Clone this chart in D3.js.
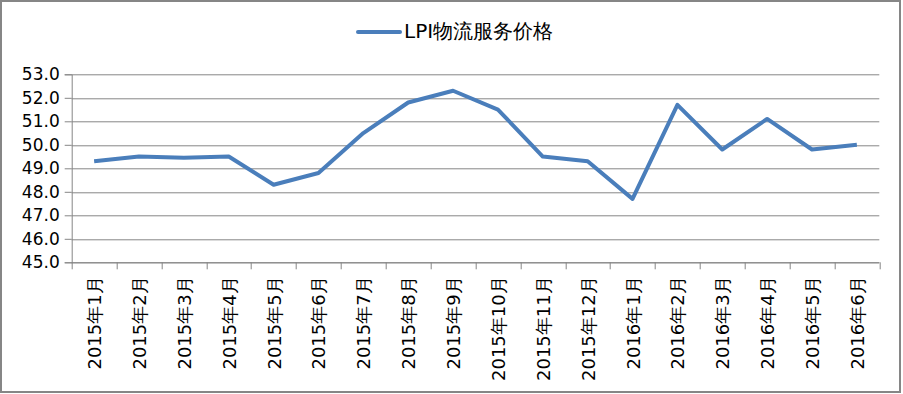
<!DOCTYPE html>
<html>
<head>
<meta charset="utf-8">
<script src="https://cdn.jsdelivr.net/npm/d3@7"></script>
<style>
  body { margin: 0; background: #fff; }
  text { font-family: "DejaVu Sans", sans-serif; fill: #000; }
</style>
</head>
<body>
<div id="chart"></div>
<script>
var svgWidth = 903;
var svgHeight = 394;

var margin = { top: 74.3, right: 23.7, bottom: 131.7, left: 71.7 };
var width = svgWidth - margin.left - margin.right;
var height = svgHeight - margin.top - margin.bottom;

// data
var months = ["2015年1月", "2015年2月", "2015年3月", "2015年4月", "2015年5月", "2015年6月",
  "2015年7月", "2015年8月", "2015年9月", "2015年10月", "2015年11月", "2015年12月",
  "2016年1月", "2016年2月", "2016年3月", "2016年4月", "2016年5月", "2016年6月"];
var lpiPrice = [49.3, 49.5, 49.45, 49.5, 48.3, 48.8, 50.5, 51.8, 52.3, 51.5, 49.5, 49.3,
  47.7, 51.7, 49.8, 51.1, 49.8, 50.0];
var yTicks = [45, 46, 47, 48, 49, 50, 51, 52, 53];
var seriesName = "LPI物流服务价格";

var svg = d3.select("#chart")
  .append("svg")
  .attr("width", svgWidth)
  .attr("height", svgHeight);

// outer frame
svg.append("rect")
  .attr("x", 1).attr("y", 1)
  .attr("width", 899).attr("height", 391)
  .attr("fill", "#fff")
  .attr("stroke", "#868686")
  .attr("stroke-width", 2);

var chartGroup = svg.append("g")
  .attr("transform", `translate(${margin.left}, ${margin.top})`);

var x = d3.scaleBand().domain(months).range([0, width]).padding(0);
var y = d3.scaleLinear().domain([45, 53]).range([height, 0]);

// gridlines + y axis
var yAxis = chartGroup.append("g")
  .call(d3.axisLeft(y).tickValues(yTicks).tickFormat(d3.format(".1f")).tickSize(7).tickPadding(5));
yAxis.select(".domain").attr("stroke", "#868686");
yAxis.selectAll(".tick line").attr("stroke", "#868686");
yAxis.selectAll(".tick text").attr("font-size", "17px").attr("font-family", "DejaVu Sans");

chartGroup.append("g")
  .selectAll("line")
  .data(yTicks)
  .enter()
  .append("line")
  .attr("x1", 0).attr("x2", width)
  .attr("y1", d => Math.round(y(d)) + 0.5)
  .attr("y2", d => Math.round(y(d)) + 0.5)
  .attr("stroke", "#868686")
  .attr("stroke-width", 1);

// x axis: ticks on category boundaries
var xAxisG = chartGroup.append("g")
  .attr("transform", `translate(0,${height})`);
xAxisG.append("line")
  .attr("x1", 0).attr("x2", width)
  .attr("y1", 0.5).attr("y2", 0.5)
  .attr("stroke", "#868686");
xAxisG.selectAll(".bound")
  .data(months.concat(["end"]))
  .enter()
  .append("line")
  .attr("class", "bound")
  .attr("x1", (d, i) => Math.round(i * x.bandwidth()) + 0.5)
  .attr("x2", (d, i) => Math.round(i * x.bandwidth()) + 0.5)
  .attr("y1", 0).attr("y2", 7)
  .attr("stroke", "#868686");
xAxisG.selectAll(".lab")
  .data(months)
  .enter()
  .append("text")
  .attr("class", "lab")
  .attr("transform", d => `translate(${x(d) + x.bandwidth() / 2 + 7}, 14) rotate(-90)`)
  .attr("text-anchor", "end")
  .attr("font-size", "18px")
  .text(d => d);

// the line
var line = d3.line()
  .x((d, i) => x(months[i]) + x.bandwidth() / 2)
  .y(d => y(d));

chartGroup.append("path")
  .datum(lpiPrice)
  .attr("d", line)
  .attr("fill", "none")
  .attr("stroke", "#4a7ebb")
  .attr("stroke-width", 4)
  .attr("stroke-linejoin", "round");

// legend
var legend = svg.append("g");
legend.append("line")
  .attr("x1", 358).attr("x2", 400)
  .attr("y1", 32).attr("y2", 32)
  .attr("stroke", "#4a7ebb")
  .attr("stroke-width", 4)
  .attr("stroke-linecap", "round");
legend.append("text")
  .attr("x", 404).attr("y", 38)
  .attr("font-size", "20px")
  .text(seriesName);
</script>
</body>
</html>
